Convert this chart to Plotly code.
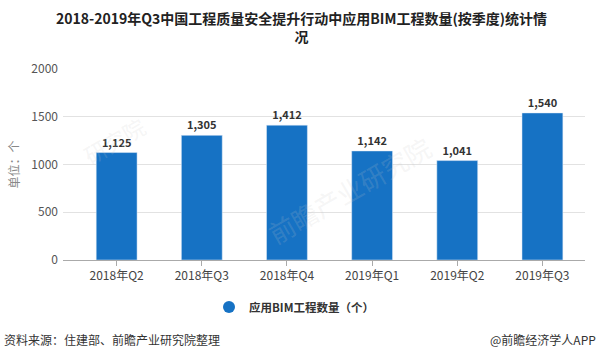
import plotly.graph_objects as go

categories = ["2018年Q2", "2018年Q3", "2018年Q4", "2019年Q1", "2019年Q2", "2019年Q3"]
values = [1125, 1305, 1412, 1142, 1041, 1540]
series_name = "应用BIM工程数量（个）"
y_ticks = [0, 500, 1000, 1500, 2000]
title_line1 = "2018-2019年Q3中国工程质量安全提升行动中应用BIM工程数量(按季度)统计情"
title_line2 = "况"

FONT = "Noto Sans CJK SC"
BLUE = "#1672c4"
W, H = 600, 358
L, R, T, B = 63, 15, 69, 98
PW, PH = W - L - R, H - T - B

def px(x):
    return (x - L) / PW

def py(y):
    return (H - B - y) / PH

fig = go.Figure()
fig.add_trace(go.Bar(
    x=list(range(len(categories))), y=values, marker_color=BLUE, width=0.48,
    texttemplate="<b>%{y:,}</b>", textposition="outside", cliponaxis=False,
    textfont=dict(family=FONT, size=11, color="#333333"),
    showlegend=False, hoverinfo="skip",
))
fig.add_trace(go.Scatter(
    x=[None], y=[None], mode="markers", name="<b>" + series_name + "</b>",
    marker=dict(color=BLUE, size=13, symbol="circle"), showlegend=True,
))

fig.update_layout(
    width=W, height=H,
    margin=dict(l=L, r=R, t=T, b=B, autoexpand=False),
    paper_bgcolor="white", plot_bgcolor="white",
    font=dict(family=FONT, color="#555555", size=12),
    xaxis=dict(
        range=[-0.63, 5.5], tickmode="array", tickvals=list(range(len(categories))),
        ticktext=categories, showgrid=False, zeroline=False, automargin=False,
        showline=True, linecolor="#aaaaaa", linewidth=1,
        ticks="outside", ticklen=5, tickcolor="#aaaaaa",
        tickfont=dict(family=FONT, size=12, color="#444444"),
    ),
    yaxis=dict(
        range=[0, 2000], tickmode="array", tickvals=y_ticks, automargin=False,
        showgrid=True, gridcolor="#e2e2e2", gridwidth=1, zeroline=False,
        tickfont=dict(family=FONT, size=12, color="#555555"),
        ticklabelstandoff=4,
        title=dict(text="单位：个", font=dict(family=FONT, size=12, color="#888888"), standoff=9),
    ),
    legend=dict(
        orientation="h", x=px(209), xanchor="left", y=py(307), yanchor="middle",
        font=dict(family=FONT, size=11.5, color="#333333"), itemsizing="constant",
        bgcolor="rgba(0,0,0,0)",
    ),
    annotations=[
        dict(text="<b>" + title_line1 + "<br>" + title_line2 + "</b>", xref="paper", yref="paper",
             x=px(301), xanchor="center", y=py(26.5), yanchor="middle", showarrow=False,
             align="center", font=dict(family=FONT, size=14, color="#222222")),
        dict(text="资料来源：住建部、前瞻产业研究院整理", xref="paper", yref="paper",
             x=px(2), xanchor="left", y=py(339), yanchor="middle", showarrow=False,
             font=dict(family=FONT, size=12, color="#333333")),
        dict(text="@前瞻经济学人APP", xref="paper", yref="paper",
             x=px(598), xanchor="right", y=py(339), yanchor="middle", showarrow=False,
             font=dict(family=FONT, size=12, color="#333333")),
        dict(text="前瞻产业研究院", xref="paper", yref="paper", x=px(440), y=py(125),
             showarrow=False, textangle=-30,
             font=dict(family=FONT, size=26, color="rgba(200,200,200,0.18)")),
        dict(text="研究院", xref="paper", yref="paper", x=px(75), y=py(140),
             showarrow=False, textangle=-30,
             font=dict(family=FONT, size=22, color="rgba(200,200,200,0.18)")),
    ],
)

fig.write_html(
    "out.html",
    config={"displayModeBar": False},
    post_script="document.body.style.margin='0';document.body.style.overflow='hidden';",
)
